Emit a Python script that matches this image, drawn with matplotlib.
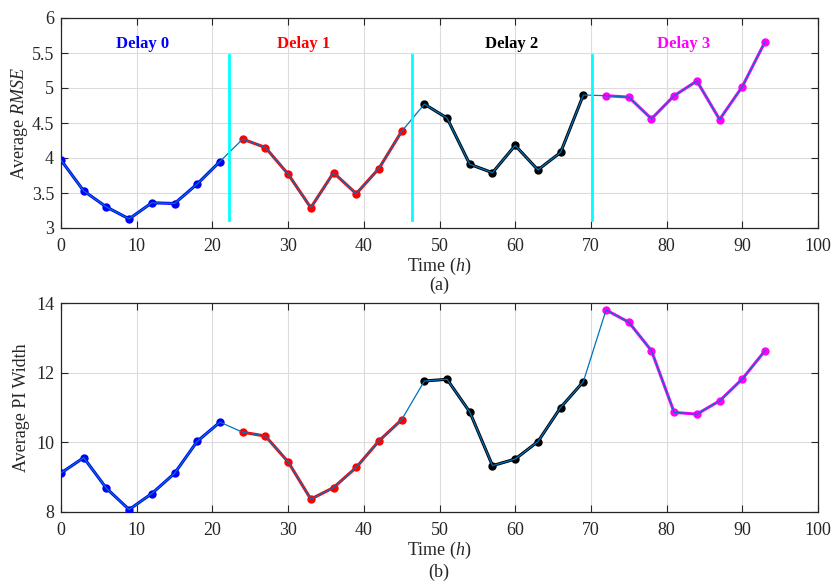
import matplotlib
matplotlib.use("Agg")
import matplotlib.pyplot as plt
import numpy as np

plt.rcParams['font.family'] = ['Liberation Serif', 'DejaVu Serif']
plt.rcParams['mathtext.fontset'] = 'custom'
plt.rcParams['mathtext.rm'] = 'Liberation Serif'
plt.rcParams['mathtext.it'] = 'Liberation Serif:italic'

time_h = [0, 3, 6, 9, 12, 15, 18, 21, 24, 27, 30, 33, 36, 39, 42, 45,
          48, 51, 54, 57, 60, 63, 66, 69, 72, 75, 78, 81, 84, 87, 90, 93]
rmse = [3.97, 3.53, 3.30, 3.13, 3.36, 3.35, 3.63, 3.95,
        4.27, 4.15, 3.77, 3.29, 3.79, 3.49, 3.85, 4.38,
        4.77, 4.57, 3.91, 3.79, 4.18, 3.83, 4.08, 4.90,
        4.89, 4.87, 4.56, 4.89, 5.10, 4.55, 5.02, 5.66]
pi_width = [9.12, 9.56, 8.68, 8.07, 8.53, 9.11, 10.03, 10.58,
            10.29, 10.18, 9.44, 8.37, 8.70, 9.28, 10.04, 10.65,
            11.76, 11.81, 10.87, 9.33, 9.52, 10.02, 11.00, 11.74,
            13.80, 13.45, 12.63, 10.86, 10.81, 11.19, 11.82, 12.63]
delay_names = ['Delay 0', 'Delay 1', 'Delay 2', 'Delay 3']
delay_colors = ['#0000ff', '#ff0000', '#000000', '#ff00ff']
delay_label_x = [10.8, 32.1, 59.5, 82.2]
boundaries = [22.25, 46.4, 70.1]
seg_len = 8

TXT = '#262626'
FS = 13
fig = plt.figure(figsize=(8.31, 5.81), dpi=100)
W, H = 831, 581
ax1 = fig.add_axes([61 / W, 1 - 228 / H, (818 - 61) / W, (228 - 18) / H])
ax2 = fig.add_axes([61 / W, 1 - 512 / H, (818 - 61) / W, (512 - 303) / H])

x = np.array(time_h)


def draw(ax, y):
    y = np.array(y)
    for i, c in enumerate(delay_colors):
        s = slice(i * seg_len, (i + 1) * seg_len)
        ax.plot(x[s], y[s], '-', color=c, lw=2.2, zorder=3)
        ax.plot(x[s], y[s], 'o', color=c, ms=5, zorder=4)
    ax.plot(x, y, '-', color='#0072BD', lw=0.9, zorder=5)
    ax.set_xlim(0, 100)
    ax.set_xticks(np.arange(0, 101, 10))
    ax.grid(True, color='#dcdcdc', lw=0.8)
    ax.set_axisbelow(True)
    ax.tick_params(direction='in', top=True, right=True, length=5,
                   labelsize=FS, colors=TXT, width=0.8)
    ax.tick_params(axis='x', pad=7)
    ax.tick_params(axis='y', pad=5)
    for sp in ax.spines.values():
        sp.set_color(TXT)
        sp.set_linewidth(0.9)
    ax.set_xlabel('Time ($h$)', fontsize=FS, color=TXT, labelpad=1)


draw(ax1, rmse)
ax1.set_ylim(3, 6)
ax1.set_yticks([3, 3.5, 4, 4.5, 5, 5.5, 6])
ax1.set_yticklabels(['3', '3.5', '4', '4.5', '5', '5.5', '6'])
ax1.set_ylabel('Average $RMSE$', fontsize=FS, color=TXT, labelpad=1)
for b in boundaries:
    ax1.plot([b, b], [3.11, 5.47], color='#00ffff', lw=2, zorder=6)
for name, c, tx in zip(delay_names, delay_colors, delay_label_x):
    ax1.text(tx, 5.63, name, color=c, fontsize=12, fontweight='bold',
             ha='center', va='center')
fig.text(439 / W, 1 - 285 / H, '(a)', ha='center', va='center', fontsize=FS, color=TXT)

draw(ax2, pi_width)
ax2.set_ylim(8, 14)
ax2.set_yticks([8, 10, 12, 14])
ax2.set_ylabel('Average PI Width', fontsize=FS, color=TXT, labelpad=4)
fig.text(439 / W, 1 - 572 / H, '(b)', ha='center', va='center', fontsize=FS, color=TXT)

fig.savefig('out.png', dpi=100)
